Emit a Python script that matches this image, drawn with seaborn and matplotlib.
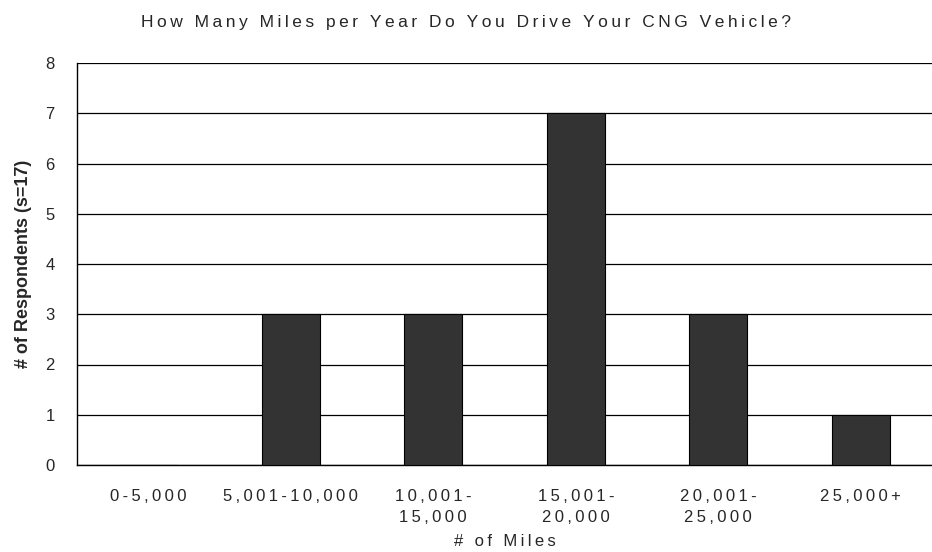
import numpy as np
import pandas as pd
import seaborn as sns
import matplotlib.pyplot as plt
from matplotlib.ticker import FixedLocator

# data
categories = ["0-5,000", "5,001-10,000", "10,001-\n15,000", "15,001-\n20,000",
              "20,001-\n25,000", "25,000+"]
respondents = [0, 3, 3, 7, 3, 1]
y_ticks = [0, 1, 2, 3, 4, 5, 6, 7, 8]

title = "How Many Miles per Year Do You Drive Your CNG Vehicle?"
x_label = "# of Miles"
y_label = "# of Respondents (s=17)"

FAMILY = ["Liberation Sans", "DejaVu Sans"]


def spaced(s, sep="\u2009"):
    # mimic the letter spacing of the original labels
    return "\n".join(sep.join(line) for line in s.split("\n"))


sns.set_style("white")
plt.rcParams["font.family"] = FAMILY

df = pd.DataFrame({"cat": categories, "n": respondents})

fig = plt.figure(figsize=(9.32, 5.52), dpi=100)
ax = fig.add_axes([77 / 932, 1 - 465 / 552, 855 / 932, (465 - 63) / 552])

sns.barplot(data=df, x="cat", y="n", color="#333333", saturation=1,
            width=0.41, edgecolor="black", linewidth=0.8, zorder=3, ax=ax)

ax.set_xlim(-0.5, len(categories) - 0.5)
ax.set_ylim(0, 8)
ax.set_yticks(y_ticks)
ax.yaxis.grid(True, color="black", linewidth=0.9)
ax.set_axisbelow(True)

ax.set_xticks(range(len(categories)))
ax.set_xticklabels([spaced(c) for c in categories], fontsize=12, linespacing=1.5)
ax.xaxis.set_minor_locator(FixedLocator(np.arange(-0.5, len(categories), 1.0)))
ax.tick_params(axis="x", which="major", length=0, pad=17)
ax.tick_params(axis="x", which="minor", length=5, width=1, color="black", direction="out")
ax.tick_params(axis="y", length=6, width=1, color="black", direction="out",
               labelsize=12, pad=10)

for side in ["top", "right"]:
    ax.spines[side].set_visible(False)
for side in ["left", "bottom"]:
    ax.spines[side].set_color("black")
    ax.spines[side].set_linewidth(1)

ax.set_xlabel(spaced(x_label), fontsize=12, labelpad=7)
ax.set_ylabel(y_label, fontsize=13, fontweight="bold", labelpad=10)

fig.text(466 / 932, 1 - 23 / 552, spaced(title), ha="center", va="center", fontsize=12.5)

fig.savefig("out.png", dpi=100)
